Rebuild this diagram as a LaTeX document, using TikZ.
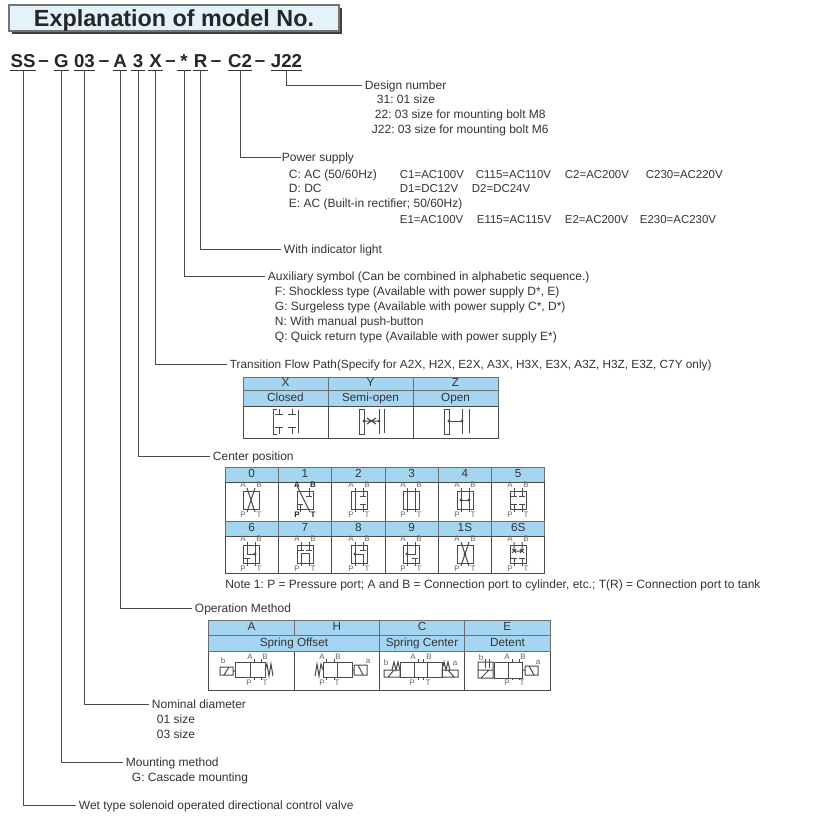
\documentclass[tikz,border=0pt]{standalone}
\usepackage{fontspec}
\setmainfont{Liberation Sans}
\usetikzlibrary{calc}
\frenchspacing
\definecolor{inktext}{HTML}{333333}
\definecolor{inkline}{HTML}{4A4A4A}
\definecolor{headblue}{HTML}{A5D6F1}
\definecolor{titleblue}{HTML}{E4F3FB}
\tikzstyle{seg}=[font=\fontsize{14}{14}\bfseries\selectfont,text=black!85,inner sep=0pt,text height=10.2pt,text depth=2pt,anchor=south]
\tikzstyle{dashseg}=[font=\fontsize{14}{14}\bfseries\selectfont,text=black!85,inner sep=0pt]
\tikzstyle{desc}=[font=\fontsize{9}{10}\selectfont,text=inktext,anchor=west,inner ysep=0pt,inner xsep=2pt,text height=7.4pt,text depth=1.3pt]
\tikzstyle{volt}=[desc,font=\fontsize{8.6}{10}\selectfont]
\tikzstyle{conn}=[draw=inkline,line width=0.7pt]
\tikzstyle{sym}=[draw=inkline,line width=0.75pt]
\tikzstyle{port}=[font=\fontsize{6}{6}\selectfont,text=black!60,inner sep=0pt]
\tikzstyle{headcell}=[draw=inkline!80,fill=headblue,line width=0.6pt,font=\fontsize{8.8}{10}\selectfont,text=inktext,inner sep=0pt,text height=6.4pt,text depth=1.8pt]
\tikzstyle{bodycell}=[draw=inkline,fill=white,line width=0.6pt,inner sep=0pt]
\tikzstyle{dot}=[fill=inkline,shape=circle,minimum size=2.4pt,inner sep=0pt]
% blocked ports of the small symbols
\newcommand{\topT}[1]{\draw[sym] (#1,-12) -- (#1,-4) (#1-3,-4) -- (#1+3,-4);}
\newcommand{\botT}[1]{\draw[sym] (#1,12) -- (#1,4) (#1-3,4) -- (#1+3,4);}
\newcommand{\valvecell}[4][]{%
	\begin{scope}[shift={(#2,#3)}]
		\draw[sym,fill=white] (-8,-9) rectangle (8,9);
		\node[port,#1] (#4a) at (-8,-15) {A};
		\node[port,#1] (#4b) at (8,-15) {B};
		\node[port,#1] (#4p) at (-8,15) {P};
		\node[port,#1] (#4t) at (8,15) {T};
	\end{scope}}
\newcommand{\atcell}[3]{\begin{scope}[shift={(#1,#2)}]#3\end{scope}}
\begin{document}
\begin{tikzpicture}[x=0.75pt,y=-0.75pt]
	\useasboundingbox (0,0) rectangle (831,822);

	% title
	\fill[black!75] (12,8) rectangle (342,34);
	\node[draw=black!55,fill=titleblue,line width=0.8pt,minimum width=247.5pt,minimum height=19.5pt,inner sep=0pt,font=\fontsize{17.5}{20}\bfseries\selectfont,text=black!85,text height=12.5pt,text depth=0pt] (title) at (174,18) {Explanation of model No.};

	% model number
	\node[seg,minimum width=19.5pt] (mss) at (23,70) {SS};
	\node[seg,minimum width=11.3pt] (mg) at (61.5,70) {G};
	\node[seg,minimum width=15.8pt] (mdia) at (84.5,70) {03};
	\node[seg,minimum width=10.5pt] (mop) at (120,70) {A};
	\node[seg,minimum width=10.5pt] (mcen) at (138,70) {3};
	\node[seg,minimum width=11.3pt] (mtra) at (155.5,70) {X};
	\node[seg,minimum width=10.5pt] (maux) at (184,70) {*};
	\node[seg,minimum width=11.3pt] (mlamp) at (200.5,70) {R};
	\node[seg,minimum width=16.5pt] (mpow) at (240,70) {C2};
	\node[seg,minimum width=23.3pt] (mdes) at (286.5,70) {J22};
	\foreach \seg in {mss,mg,mdia,mop,mcen,mtra,maux,mlamp,mpow,mdes}
		\draw[line width=0.7pt,black!80] (\seg.south west) -- (\seg.south east);
	\node[dashseg] (d1) at (43.5,64) {–};
	\node[dashseg] (d2) at (104,64) {–};
	\node[dashseg] (d3) at (170.5,64) {–};
	\node[dashseg] (d4) at (216,64) {–};
	\node[dashseg] (d5) at (260,64) {–};

	% design number
	\node[desc] (design) at (362,85) {Design number};
	\node[desc] (des31) at (374,99) {31: 01 size};
	\node[desc] (des22) at (372,114) {22: 03 size for mounting bolt M8};
	\node[desc] (desj22) at (369,129) {J22: 03 size for mounting bolt M6};
	\draw[conn] (mdes.south) |- (design.west);

	% power supply
	\node[desc,inner xsep=0.5pt] (power) at (281,157.5) {Power supply};
	\node[desc] (powc) at (286,174) {C: AC (50/60Hz)};
	\node[desc] (powd) at (286,188) {D: DC};
	\node[desc] (powe) at (286,203) {E: AC (Built-in rectifier; 50/60Hz)};
	\node[volt] (c1) at (397,174) {C1=AC100V};
	\node[volt] (c115) at (473,174) {C115=AC110V};
	\node[volt] (c2) at (562,174) {C2=AC200V};
	\node[volt] (c230) at (643,174) {C230=AC220V};
	\node[volt] (d1v) at (397,188) {D1=DC12V};
	\node[volt] (d2v) at (469,188) {D2=DC24V};
	\node[volt] (e1) at (397,219) {E1=AC100V};
	\node[volt] (e115) at (474,219) {E115=AC115V};
	\node[volt] (e2) at (562,219) {E2=AC200V};
	\node[volt] (e230) at (637,219) {E230=AC230V};
	\draw[conn] (mpow.south) |- (power.west);

	% indicator and auxiliary
	\node[desc] (lamp) at (281,249) {With indicator light};
	\draw[conn] (mlamp.south) |- (lamp.west);
	\node[desc] (aux) at (265,276) {Auxiliary symbol (Can be combined in alphabetic sequence.)};
	\node[desc] (auxf) at (272,291) {F: Shockless type (Available with power supply D*, E)};
	\node[desc] (auxg) at (272,306) {G: Surgeless type (Available with power supply C*, D*)};
	\node[desc] (auxn) at (272,321) {N: With manual push-button};
	\node[desc] (auxq) at (272,336) {Q: Quick return type (Available with power supply E*)};
	\draw[conn] (maux.south) |- (aux.west);

	% transition flow path
	\node[desc,font=\fontsize{8.85}{10}\selectfont] (trans) at (227,364) {Transition Flow Path(Specify for A2X, H2X, E2X, A3X, H3X, E3X, A3Z, H3Z, E3Z, C7Y only)};
	\draw[conn] (mtra.south) |- (trans.west);
	\foreach \nm/\tx/\ty [count=\i from 0] in {x/X/Closed,y/Y/Semi-open,z/Z/Open} {
		\node[headcell,minimum width=63.7pt,minimum height=9.8pt] (t\nm) at (285.5+85*\i,383.5) {\tx};
		\node[headcell,minimum width=63.7pt,minimum height=12pt] (n\nm) at (285.5+85*\i,398) {\ty};
		\node[bodycell,minimum width=63.7pt,minimum height=24pt] (s\nm) at (285.5+85*\i,422) {};
	}
	% closed
	\draw[sym] (277,409) -- (273,409) -- (273,434) -- (277,434);
	\draw[sym] (298,410) -- (298,433);
	\draw[sym] (279,409) -- (279,414) (275,414) -- (283,414) (292,409) -- (292,414) (288,414) -- (296,414);
	\draw[sym] (279,434) -- (279,427) (275,427) -- (283,427) (292,434) -- (292,427) (288,427) -- (296,427);
	% semi-open
	\draw[sym] (359,409) rectangle (364,434);
	\draw[sym] (379,409) -- (379,434) (384,409) -- (384,433);
	\draw[sym] (364,421) -- (379,421) (367,418) -- (376,424) (367,424) -- (376,418);
	\node[dot] (sya) at (364,421) {};
	\node[dot] (syb) at (379,421) {};
	% open
	\draw[sym] (444,409) rectangle (449,434);
	\draw[sym] (462,409) -- (462,434) (469,409) -- (469,433);
	\draw[sym] (449,421) -- (462,421);
	\node[dot] (sza) at (449,421) {};
	\node[dot] (szb) at (462,421) {};

	% center position
	\node[desc] (center) at (210,456) {Center position};
	\draw[conn] (mcen.south) |- (center.west);
	\foreach \lab [count=\i from 0] in {0,1,2,3,4,5} {
		\node[headcell,minimum width=40pt,minimum height=11.2pt] (h\lab) at (251.7+53.3*\i,474.5) {\lab};
		\node[bodycell,minimum width=40pt,minimum height=29.2pt] (b\lab) at (251.7+53.3*\i,501.5) {};
	}
	\foreach \lab [count=\i from 0] in {6,7,8,9,1S,6S} {
		\node[headcell,minimum width=40pt,minimum height=11.2pt] (h\lab) at (251.7+53.3*\i,528.5) {\lab};
		\node[bodycell,minimum width=40pt,minimum height=27.8pt] (b\lab) at (251.7+53.3*\i,554.5) {};
	}
	\valvecell{251}{500}{va}
	\valvecell[font=\fontsize{6}{6}\bfseries\selectfont,text=black!85]{305}{500}{vb}
	\valvecell{359}{500}{vc}
	\valvecell{411}{500}{vd}
	\valvecell{465}{500}{ve}
	\valvecell{518}{500}{vf}
	\valvecell{251}{554}{vg}
	\valvecell{305}{554}{vh}
	\valvecell{359}{554}{vi}
	\valvecell{411}{554}{vj}
	\valvecell{465}{554}{vk}
	\valvecell{518}{554}{vl}
	\atcell{251}{500}{\draw[sym] (-4,-12) -- (4,12) (4,-12) -- (-4,12);}
	\atcell{305}{500}{\draw[sym] (-8,-14) -- (5,12); \topT{4} \botT{-5}}
	\atcell{359}{500}{\draw[sym] (-4,-12) -- (-4,12); \topT{4} \botT{4}}
	\atcell{411}{500}{\draw[sym] (-4,-12) -- (-4,12) (4,-12) -- (4,12);}
	\atcell{465}{500}{\draw[sym] (-4,-12) -- (-4,12) (4,-12) -- (4,12) (-4,0) -- (4,0); \node[dot] (ve1) at (-4,0) {}; \node[dot] (ve2) at (4,0) {};}
	\atcell{518}{500}{\topT{-4} \topT{4} \botT{-4} \botT{4}}
	\atcell{251}{554}{\draw[sym] (-4,-12) -- (-4,0) -- (4,0) (4,-12) -- (4,12); \node[dot] (vg1) at (4,0) {}; \botT{-4}}
	\atcell{305}{554}{\draw[sym] (-4,12) -- (-4,-1) -- (4,-1) -- (4,12); \topT{-4} \topT{4}}
	\atcell{359}{554}{\draw[sym] (-4,-12) -- (-4,12) (-4,0) -- (4,0) -- (4,12); \node[dot] (vi1) at (-4,0) {}; \topT{4}}
	\atcell{411}{554}{\draw[sym] (-4,-12) -- (-4,12) (-4,0) -- (4,0) -- (4,-12); \node[dot] (vj1) at (-4,0) {}; \botT{4}}
	\atcell{465}{554}{\draw[sym] (-4,-12) -- (4,12) (4,-12) -- (-4,12); \node[dot] (vk1) at (0,0) {};}
	\atcell{518}{554}{\draw[sym] (-4,-12) -- (-4,-3) -- (4,-3) -- (4,-12) (-6,-5) -- (-2,-1) (-6,-1) -- (-2,-5) (2,-5) -- (6,-1) (2,-1) -- (6,-5); \botT{-4} \botT{4}}
	\node[desc,inner xsep=0pt] (note) at (225,584) {Note 1: P = Pressure port; A and B = Connection port to cylinder, etc.; T(R) = Connection port to tank};

	% operation method
	\node[desc] (opm) at (192,608) {Operation Method};
	\draw[conn] (mop.south) |- (opm.west);
	\foreach \lab [count=\i from 0] in {A,H,C,E} {
		\node[headcell,minimum width=64pt,minimum height=11.3pt] (o\lab) at (251.5+85.3*\i,627.5) {\lab};
		\node[bodycell,minimum width=64pt,minimum height=29.2pt] (p\lab) at (251.5+85.3*\i,670.5) {};
	}
	\node[headcell,minimum width=127.9pt,minimum height=12pt] (offs) at (294,643) {Spring Offset};
	\node[headcell,minimum width=64pt,minimum height=12pt] (scen) at (422,643) {Spring Center};
	\node[headcell,minimum width=64pt,minimum height=12pt] (dete) at (507.5,643) {Detent};
	% A
	\draw[sym] (235,662) rectangle (265,677) (250,662) -- (250,677);
	\draw[sym] (254,659) -- (254,662) (261,659) -- (261,662) (254,677) -- (254,680) (261,677) -- (261,680);
	\draw[sym] (220,667) rectangle (233,675) (224,675) -- (229,667) (233,671) -- (235,671);
	\draw[sym] (265,670) -- (267,664) -- (269,676) -- (271,664) -- (273,676);
	\node[port] (pab) at (223,661) {b};
	\node[port] (paa) at (250,657) {A};
	\node[port] (pbb) at (265,657) {B};
	\node[port] (pap) at (249,683) {P};
	\node[port] (pat) at (265,683) {T};
	% H
	\draw[sym] (323,662) rectangle (352,677) (337,662) -- (337,677);
	\draw[sym] (326,659) -- (326,662) (334,659) -- (334,662) (326,677) -- (326,680) (334,677) -- (334,680);
	\draw[sym] (354,665) rectangle (367,675) (358,665) -- (363,675) (352,670) -- (354,670);
	\draw[sym] (323,670) -- (321,664) -- (319,676) -- (317,664) -- (315,676);
	\node[port] (hqa) at (368,661) {a};
	\node[port] (haa) at (322,657) {A};
	\node[port] (hbb) at (338,657) {B};
	\node[port] (hpp) at (322,683) {P};
	\node[port] (htt) at (337,683) {T};
	% C
	\draw[sym] (400,662) rectangle (442,677) (414,662) -- (414,677) (427,662) -- (427,677);
	\draw[sym] (418,659) -- (418,662) (423,659) -- (423,662) (418,677) -- (418,680) (423,677) -- (423,680);
	\draw[sym] (384,670) rectangle (400,677) (388,677) -- (394,670);
	\draw[sym] (442,670) rectangle (458,677) (448,670) -- (454,677);
	\draw[sym] (392,670) -- (394,662) -- (396,670) -- (398,662) -- (400,670);
	\draw[sym] (442,670) -- (444,662) -- (446,670) -- (448,662) -- (450,670);
	\node[port] (cqb) at (386,663) {b};
	\node[port] (cqa) at (455,663) {a};
	\node[port] (caa) at (413,657) {A};
	\node[port] (cbb) at (429,657) {B};
	\node[port] (cpp) at (412,683) {P};
	\node[port] (ctt) at (428,683) {T};
	% E
	\draw[sym] (494,662) rectangle (522,678) (508,662) -- (508,678);
	\draw[sym] (512,659) -- (512,662) (519,659) -- (519,662) (512,678) -- (512,680) (519,678) -- (519,680);
	\draw[sym] (478,662) rectangle (493,678) (478,670) -- (493,670) (481,678) -- (489,670);
	\draw[sym] (485,659) -- (485,668) (489,659) -- (489,668);
	\draw[sym] (522,670) -- (525,670) (525,666) rectangle (538,675) (529,666) -- (534,675);
	\node[port] (eqb) at (481,658) {b};
	\node[port] (eqa) at (538,662) {a};
	\node[port] (eaa) at (507,657) {A};
	\node[port] (ebb) at (523,657) {B};
	\node[port] (epp) at (507,683) {P};
	\node[port] (ett) at (522,683) {T};

	% lower entries
	\node[desc] (dia) at (149,704) {Nominal diameter};
	\node[desc] (dia01) at (154,719) {01 size};
	\node[desc] (dia03) at (154,734) {03 size};
	\draw[conn] (mdia.south) |- (dia.west);
	\node[desc] (mnt) at (123,762) {Mounting method};
	\node[desc] (mntg) at (129,777) {G: Cascade mounting};
	\draw[conn] (mg.south) |- (mnt.west);
	\node[desc] (wet) at (76,805) {Wet type solenoid operated directional control valve};
	\draw[conn] (mss.south) |- (wet.west);
\end{tikzpicture}
\end{document}
